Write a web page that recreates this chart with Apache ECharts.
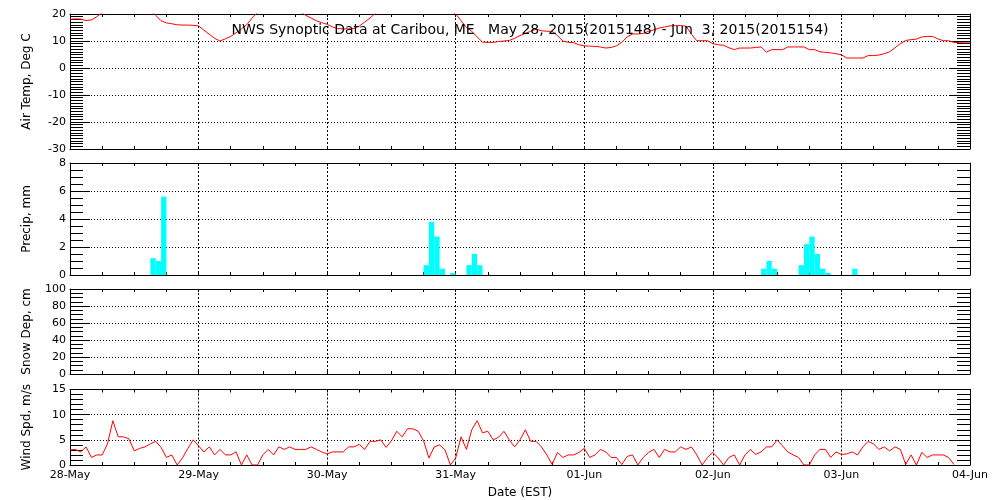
<!DOCTYPE html>
<html><head><meta charset="utf-8">
<script src="https://cdn.jsdelivr.net/npm/echarts@6/dist/echarts.min.js"></script>
<style>html,body{margin:0;padding:0;background:#fff}#c{width:1000px;height:500px}</style>
</head><body><div id="c"></div>
<script>
const dateLabels = ['28-May','29-May','30-May','31-May','01-Jun','02-Jun','03-Jun','04-Jun'];
const titleText = 'NWS Synoptic Data at Caribou, ME   May 28, 2015(2015148) - Jun  3, 2015(2015154)';
// hourly air temperature, deg C, from hour 0 (28-May 00 EST)
const airTemp = [
 18.0,18.2,18.1,17.6,17.8,19.0,20.5,21.5,22.5,23.5,24.0,24.5,24.5,24.0,23.0,21.5,19.5,17.5,16.7,16.4,16.0,15.9,15.9,15.8,
 15.6,14.0,12.5,11.0,10.0,10.8,11.7,13.0,14.5,16.0,18.5,20.5,22.0,23.5,24.5,25.0,25.0,24.5,23.0,21.0,19.5,18.5,17.5,16.8,
 16.2,15.2,14.6,14.5,14.5,14.6,15.5,17.0,18.5,20.3,22.0,23.5,24.5,25.5,26.0,26.5,26.5,26.0,25.5,25.0,24.0,23.0,22.0,21.0,
 20.0,17.5,15.0,13.6,11.5,9.6,9.5,9.5,9.8,10.0,10.2,11.0,12.0,12.8,13.6,14.4,13.8,13.6,13.6,12.0,10.0,9.5,9.4,8.6,
 8.2,8.1,8.0,7.8,7.4,7.6,8.2,9.5,11.5,12.6,12.6,12.8,13.6,14.1,14.8,15.2,15.6,15.7,15.7,15.5,12.5,10.1,10.1,10.1,
 9.0,8.6,8.4,7.5,6.8,7.4,7.4,7.4,7.6,7.8,5.9,6.8,6.8,6.8,7.8,7.8,7.8,7.8,6.8,6.8,6.0,5.8,5.6,5.3,
 4.9,3.7,3.7,3.7,3.7,4.6,4.6,4.8,5.3,6.0,7.5,9.0,10.2,10.5,10.7,11.5,11.7,11.7,10.8,10.1,10.1,9.5,9.4,9.3,
 9.3
];
// hourly precipitation, mm
const precipHours = [15,16,17,66,67,68,69,71,74,75,76,129,130,131,136,137,138,139,140,141,146];
const precipValues = [1.2,1.0,5.6,0.7,3.8,2.75,0.45,0.15,0.7,1.5,0.7,0.45,1.0,0.45,0.7,2.2,2.75,1.5,0.45,0.15,0.45];
// hourly wind speed, m/s
const windSpeed = [
 3.0,3.1,2.6,3.6,1.5,2.0,2.0,4.2,8.8,5.6,5.6,5.2,2.8,3.3,3.6,4.2,4.7,3.5,1.5,2.0,0,1.4,3.3,5.0,
 3.8,2.6,3.6,2.0,3.1,2.0,2.0,2.6,0,2.0,0,0,2.0,3.1,2.0,3.6,3.1,3.6,3.1,3.1,3.1,3.6,3.1,2.6,
 2.2,2.6,2.6,2.6,3.6,3.6,4.1,3.1,4.7,4.7,5.0,3.5,4.8,6.7,5.6,7.2,7.2,6.7,4.8,1.4,3.6,4.0,3.0,0,
 1.4,5.6,3.1,7.0,8.8,6.4,6.7,5.0,5.5,6.7,5.0,3.6,5.0,7.0,4.7,4.7,3.6,2.0,0.1,2.5,1.5,2.0,2.0,2.5,
 3.3,1.5,2.0,3.1,2.6,1.5,1.5,0.1,1.7,2.0,0,1.5,2.5,3.1,1.5,3.1,2.6,2.6,3.6,3.1,3.6,2.0,0,1.5,
 2.5,1.4,0,1.5,2.0,0,2.0,3.1,2.1,2.6,3.6,3.6,5.0,3.8,2.6,2.0,1.5,0,0,2.0,3.1,3.1,1.5,2.6,
 2.1,2.2,2.6,2.0,3.6,4.7,4.2,3.1,3.6,2.8,3.6,3.1,0.1,2.0,0,2.5,1.5,2.0,2.0,2.0,1.5,0.1
];
const panelNames = ['Air Temp, Deg C','Precip, mm','Snow Dep, cm','Wind Spd, m/s'];
const panelMin = [-30,0,0,0];
const panelMax = [20,8,100,15];
const panelInterval = [10,2,20,5];
const panelMinorSplit = [10,4,4,5];

const FONT = 'DejaVu Sans';
const grids = [
  {left:70,right:30,top:14,height:135},
  {left:70,right:30,top:163,height:112},
  {left:70,right:30,top:289,height:85},
  {left:70,right:30,top:389.5,height:79.5}
];
const xAxes = [], yAxes = [];
for (let i=0;i<4;i++){
  const last = i===3;
  xAxes.push({
    gridIndex:i, type:'value', min:0, max:168, interval:24, position:'bottom',
    axisLine:{show:true,onZero:false,lineStyle:{color:'#000',width:1}},
    axisTick:{show:true,inside:true,length:3,lineStyle:{color:'#000'}},
    minorTick:{show:true,splitNumber:4,length:3,lineStyle:{color:'#000'}},
    splitLine:{show:true,lineStyle:{color:'#000',type:[2,2],width:1}},
    axisLabel:{show:last,color:'#000',fontFamily:FONT,fontSize:11,margin:5,showMinLabel:true,showMaxLabel:true,
      formatter:v=>dateLabels[Math.round(v/24)]},
    name: last ? 'Date (EST)' : '', nameLocation:'middle', nameGap:22,
    nameTextStyle:{color:'#000',fontFamily:FONT,fontSize:12}
  });
  xAxes.push({
    gridIndex:i, type:'value', min:0, max:168, interval:24, position:'top',
    axisLine:{show:true,onZero:false,lineStyle:{color:'#000',width:1}},
    axisTick:{show:true,inside:true,length:3,lineStyle:{color:'#000'}},
    minorTick:{show:true,splitNumber:4,length:3,lineStyle:{color:'#000'}},
    splitLine:{show:false}, axisLabel:{show:false}
  });
  const yCommon = {
    gridIndex:i, type:'value', min:panelMin[i], max:panelMax[i], interval:panelInterval[i],
    axisLine:{show:true,onZero:false,lineStyle:{color:'#000',width:1}},
    axisTick:{show:true,inside:true,length:20,lineStyle:{color:'#000'}},
    minorTick:{show:true,splitNumber:panelMinorSplit[i],length:13,lineStyle:{color:'#000'}}
  };
  yAxes.push(Object.assign({}, yCommon, {
    position:'left',
    splitLine:{show:true,lineStyle:{color:'#000',type:[1,2],width:1}},
    axisLabel:{show:true,color:'#000',fontFamily:FONT,fontSize:11,margin:4},
    name:panelNames[i], nameLocation:'middle', nameGap:37,
    nameTextStyle:{color:'#000',fontFamily:FONT,fontSize:12}
  }));
  yAxes.push(Object.assign({}, yCommon, {
    position:'right', splitLine:{show:false}, axisLabel:{show:false}
  }));
}

const chart = echarts.init(document.getElementById('c'), null, {renderer:'canvas'});
chart.setOption({
  backgroundColor:'#fff',
  animation:false,
  grid:grids,
  xAxis:xAxes,
  yAxis:yAxes,
  graphic:[{type:'text',x:530,y:30,z:100,
    style:{text:titleText,fill:'#000',font:'14px "DejaVu Sans"',textAlign:'center',textVerticalAlign:'middle'}}],
  series:[
    {type:'line',xAxisIndex:0,yAxisIndex:0,data:airTemp.map((v,i)=>[i,v]),showSymbol:false,clip:true,
      lineStyle:{color:'#ff0000',width:1},itemStyle:{color:'#ff0000'}},
    {type:'custom',xAxisIndex:2,yAxisIndex:2,data:precipHours.map((h,k)=>[h,precipValues[k]]),
      renderItem:function(params,api){
        const h=api.value(0), v=api.value(1);
        const p0=api.coord([h,0]), p1=api.coord([h+1,v]);
        return {type:'rect',shape:{x:p0[0],y:p1[1],width:p1[0]-p0[0],height:p0[1]-p1[1]},style:{fill:'#00ffff'}};
      }},
    {type:'line',xAxisIndex:6,yAxisIndex:6,data:windSpeed.map((v,i)=>[i,v]),showSymbol:false,clip:true,
      lineStyle:{color:'#ff0000',width:1},itemStyle:{color:'#ff0000'}}
  ]
});
</script></body></html>
